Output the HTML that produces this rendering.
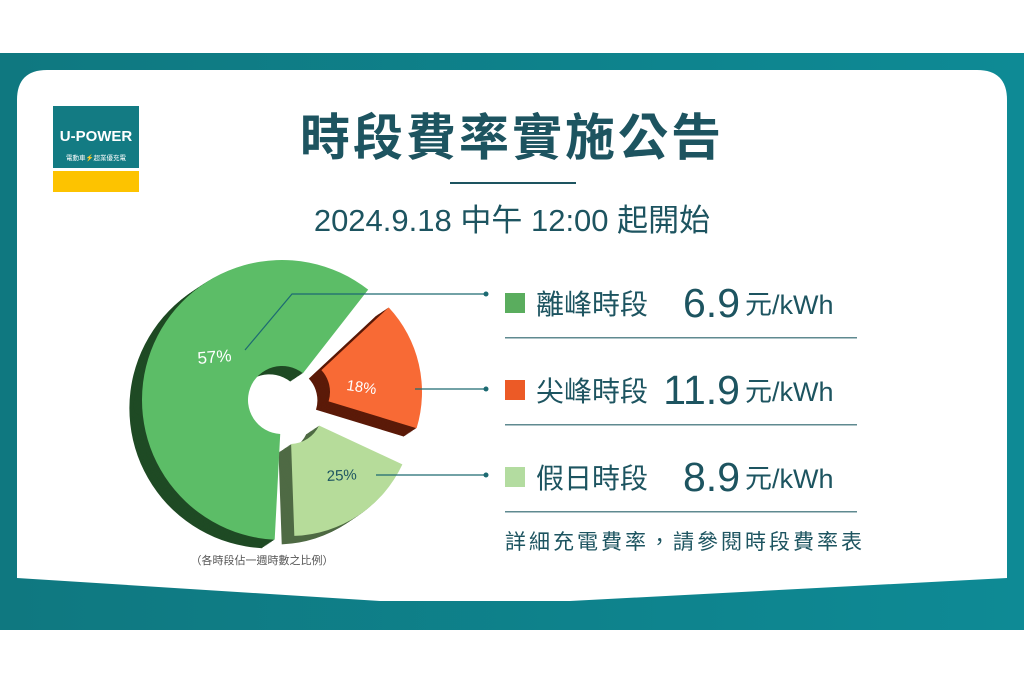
<!DOCTYPE html>
<html><head><meta charset="utf-8"><style>
html,body{margin:0;padding:0;background:#fff}
svg{display:block}
text{font-family:"Liberation Sans","Noto Sans CJK TC",sans-serif}
</style></head><body>
<svg id="s" width="1024" height="683" viewBox="0 0 1024 683" xmlns="http://www.w3.org/2000/svg">
<defs>
<linearGradient id="bg" x1="0" x2="1"><stop offset="0" stop-color="#0f7880"/><stop offset="1" stop-color="#0e8a95"/></linearGradient>
</defs>
<rect x="0" y="53" width="1024" height="577" fill="url(#bg)"/>
<path d="M17,100 Q17,70 47,70 L977,70 Q1007,70 1007,100 L1007,578 L570,601 L380,601 L17,578Z" fill="#fff"/>
<rect x="53" y="106" width="86" height="62" fill="#137b83"/>
<rect x="53" y="171" width="86" height="21" fill="#fdc300"/>
<text x="96" y="141" font-size="15" font-weight="bold" fill="#fff" text-anchor="middle">U-POWER</text>
<text x="96" y="160" font-size="6.5" fill="#fff" text-anchor="middle">電動車⚡超業優充電</text>
<text x="512" y="155" font-size="50" font-weight="bold" fill="#1d5460" text-anchor="middle" letter-spacing="3">時段費率實施公告</text>
<rect x="450" y="182" width="126" height="2" fill="#1d5460"/>
<text x="512" y="231" font-size="31" fill="#1d5460" text-anchor="middle">2024.9.18 中午 12:00 起開始</text>
<g id="pie"></g>
<g stroke="#1d6a72" stroke-width="1.2" fill="none">
<polyline points="245,350 292,294 486,294"/>
<line x1="415" y1="389" x2="486" y2="389"/>
<line x1="376" y1="475" x2="486" y2="475"/>
</g>
<g fill="#1d6a72"><circle cx="486" cy="294" r="2.5"/><circle cx="486" cy="389" r="2.5"/><circle cx="486" cy="475" r="2.5"/></g>
<text x="198" y="364" font-size="17" fill="#fff" transform="rotate(-5 198 364)">57%</text>
<text x="346" y="390" font-size="15" fill="#fff" transform="rotate(8 346 390)">18%</text>
<text x="327" y="481" font-size="15" fill="#1d5460" transform="rotate(-3 327 481)">25%</text>
<text x="262" y="564" font-size="11" fill="#555" text-anchor="middle">（各時段佔一週時數之比例）</text>
<rect x="505" y="293" width="20" height="20" fill="#5aad5e"/>
<rect x="505" y="380" width="20" height="20" fill="#ec5a26"/>
<rect x="505" y="467" width="20" height="20" fill="#b3dca0"/>
<g fill="#1d5460">
<text x="536" y="314" font-size="28">離峰時段</text>
<text x="536" y="401" font-size="28">尖峰時段</text>
<text x="536" y="488" font-size="28">假日時段</text>
<text x="740" y="317" font-size="41" text-anchor="end">6.9</text>
<text x="740" y="404" font-size="41" text-anchor="end">11.9</text>
<text x="740" y="491" font-size="41" text-anchor="end">8.9</text>
<text x="745" y="314" font-size="27">元/kWh</text>
<text x="745" y="401" font-size="27">元/kWh</text>
<text x="745" y="488" font-size="27">元/kWh</text>
<text x="505" y="549" font-size="21" letter-spacing="3">詳細充電費率，請參閱時段費率表</text>
</g>
<g fill="#5f8a90"><rect x="505" y="337" width="352" height="1.5"/><rect x="505" y="424" width="352" height="1.5"/><rect x="505" y="511" width="352" height="1.5"/></g>
</svg>
<script>
function arc(cx,cy,R,r,a0,a1){const d=Math.PI/180,p=(rr,a)=>[cx+rr*Math.cos(a*d),cy+rr*Math.sin(a*d)];
const l=(a1-a0)>180?1:0;const A=p(R,a0),B=p(R,a1),C=p(r,a1),D=p(r,a0);
return `M${A} A${R},${R} 0 ${l} 1 ${B} L${C} A${r},${r} 0 ${l} 0 ${D}Z`;}
const g=document.getElementById('pie');let h='';
const segs=[[282,400,140,34,93,308,'#5cbd67','#1f4a24'],[298,392,124,32,-43,17,'#f86a35','#5b1a08'],[290,412,124,32,25,88,'#b6dc9a','#4f6a44']];
for(const s of segs){for(let i=14;i>0;i-=1){h+=`<path d="${arc(s[0]-i*0.9,s[1]+i*0.6,s[2],s[3],s[4],s[5])}" fill="${s[7]}"/>`;}}
for(const s of segs){h+=`<path d="${arc(s[0],s[1],s[2],s[3],s[4],s[5])}" fill="${s[6]}"/>`;}
g.innerHTML=h;
</script>
</body></html>
